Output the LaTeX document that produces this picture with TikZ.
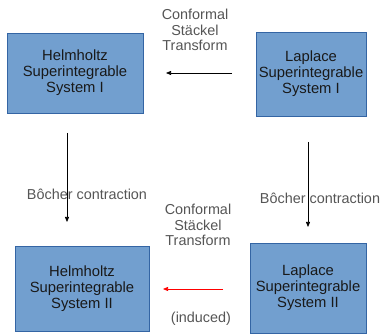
\documentclass[tikz,border=0pt]{standalone}
\usepackage{fontspec}
\setmainfont{Liberation Sans}
\usetikzlibrary{arrows.meta}
\definecolor{boxfill}{HTML}{729FCF}
\definecolor{boxline}{HTML}{3465A4}
\definecolor{lbl}{HTML}{555555}
\begin{document}
\begin{tikzpicture}[x=1pt,y=-1pt,
  sbox/.style={draw=boxline,fill=boxfill,line width=0.8pt,inner sep=0pt,align=center,
    font=\fontsize{14.8}{16}\selectfont,text=black!90},
  lab/.style={align=center,font=\fontsize{14.4}{15.5}\selectfont,text=lbl,inner sep=0pt},
  arr/.style={-{Triangle[length=5pt,width=4pt]},line width=0.7pt}]
\useasboundingbox (0,0) rectangle (380,336);
\node[sbox,minimum width=136pt,minimum height=80pt] (h1) at (75,73) {Helmholtz\\Superintegrable\\System I};
\node[sbox,minimum width=110pt,minimum height=84pt] (l1) at (311,74) {Laplace\\Superintegrable\\System I};
\node[sbox,minimum width=134pt,minimum height=85pt] (h2) at (82,288.5) {Helmholtz\\Superintegrable\\System II};
\node[sbox,minimum width=116pt,minimum height=90pt] (l2) at (308,288) {Laplace\\Superintegrable\\System II};
\node[lab] (t1) at (195,30) {Conformal\\Stäckel\\Transform};
\node[lab] (t2) at (198,225) {Conformal\\Stäckel\\Transform};
\node[lab] (ind) at (201,319) {(induced)};
\node[lab] (b1) at (87,194) {Bôcher contraction};
\node[lab] (b2) at (320,198) {Bôcher contraction};
\coordinate (a1s) at (232,73); \coordinate (a1e) at (166,73);
\coordinate (a2s) at (223,289); \coordinate (a2e) at (163,289);
\coordinate (v1s) at (67,133); \coordinate (v1e) at (67,222);
\coordinate (v2s) at (308,142); \coordinate (v2e) at (308,227);
\draw[arr] (a1s) -- (a1e);
\draw[arr,red] (a2s) -- (a2e);
\draw[arr] (v1s) -- (v1e);
\draw[arr] (v2s) -- (v2e);
\end{tikzpicture}
\end{document}
